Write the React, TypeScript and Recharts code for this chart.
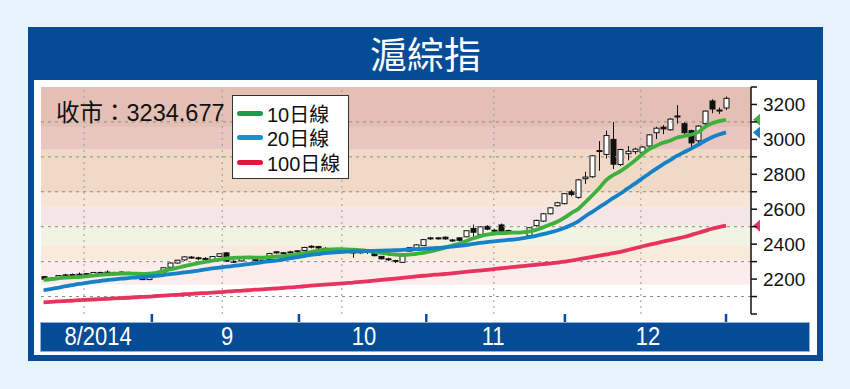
import React from 'react';
import { ComposedChart, Bar, Line, XAxis, YAxis, ReferenceLine, ReferenceArea } from 'recharts';

const dates = [
  '8/8','8/11','8/12','8/13','8/14','8/15','8/18','8/19','8/20','8/21','8/22','8/25','8/26','8/27','8/28','8/29',
  '9/1','9/2','9/3','9/4','9/5','9/9','9/10','9/11','9/12','9/15','9/16','9/17','9/18','9/19','9/22','9/23','9/24','9/25','9/26','9/29','9/30',
  '10/8','10/9','10/10','10/13','10/14','10/15','10/16','10/17','10/20','10/21','10/22','10/23','10/24','10/27','10/28','10/29','10/30','10/31',
  '11/3','11/4','11/5','11/6','11/7','11/10','11/11','11/12','11/13','11/14','11/17','11/18','11/19','11/20','11/21','11/24','11/25','11/26','11/27','11/28',
  '12/1','12/2','12/3','12/4','12/5','12/8','12/9','12/10','12/11','12/12','12/15','12/16','12/17','12/18','12/19','12/22','12/23','12/24','12/25','12/26','12/29','12/30','12/31',
];

const open = [
  2214,2200,2209,2222,2224,2226,2231,2226,2238,2240,2238,2237,2238,2212,2214,2197,
  2216,2240,2268,2292,2310,2326,2322,2318,2312,2330,2350,2302,2304,2318,2322,2305,2312,2356,2350,2352,2358,
  2364,2384,2386,2376,2368,2360,2372,2355,2350,2358,2352,2330,2316,2306,2296,2360,2376,2392,
  2432,2436,2440,2424,2436,2442,2490,2456,2502,2480,2510,2478,2468,2468,2450,2506,2532,2574,2620,2632,
  2700,2668,2775,2786,2933,2914,3000,2856,2918,2930,2926,2962,3038,3070,3055,3132,3090,3050,2992,3090,3220,3168,3180,
];
const high = [
  2218,2212,2222,2230,2232,2238,2234,2240,2242,2250,2242,2246,2242,2216,2218,2218,
  2236,2268,2295,2310,2330,2332,2328,2326,2332,2348,2354,2308,2322,2330,2326,2312,2350,2360,2356,2362,2366,
  2384,2394,2390,2382,2374,2378,2378,2360,2362,2362,2356,2332,2322,2310,2338,2382,2400,2430,
  2442,2440,2444,2430,2440,2480,2512,2502,2508,2488,2518,2482,2472,2474,2496,2540,2578,2612,2642,2692,
  2712,2774,2815,2910,2990,3050,3100,2946,2962,2952,2962,3030,3072,3082,3122,3196,3100,3056,3082,3166,3230,3182,3246,
];
const low = [
  2196,2190,2205,2218,2218,2208,2218,2224,2232,2226,2232,2228,2232,2205,2194,2194,
  2212,2238,2265,2288,2305,2318,2308,2296,2310,2326,2298,2292,2300,2314,2300,2295,2310,2345,2344,2348,2352,
  2360,2376,2372,2360,2356,2354,2358,2322,2346,2344,2330,2312,2304,2292,2292,2356,2372,2390,
  2424,2426,2426,2412,2416,2440,2436,2452,2480,2472,2468,2470,2458,2458,2446,2500,2528,2570,2615,2628,
  2674,2660,2745,2780,2820,2890,2830,2848,2880,2915,2915,2955,3002,3030,3050,3090,3030,2940,2978,3082,3150,3146,3168,
];
const close = [
  2200,2205,2220,2224,2226,2228,2221,2238,2236,2238,2236,2240,2236,2209,2197,2215,
  2232,2265,2292,2308,2327,2324,2320,2314,2329,2345,2302,2300,2320,2328,2306,2308,2346,2350,2351,2356,2362,
  2381,2388,2378,2368,2362,2374,2366,2350,2358,2354,2334,2316,2312,2302,2334,2380,2396,2426,
  2436,2434,2430,2422,2422,2477,2468,2499,2486,2478,2472,2476,2466,2466,2494,2536,2574,2608,2637,2689,
  2684,2768,2784,2906,2936,3022,2858,2942,2932,2944,2956,3026,3064,3060,3116,3134,3038,2980,3076,3162,3174,3168,3235,
];

const ma10 = [
  2195,2199,2204,2208,2210,2212,2216,2220,2224,2227,2229,2231,2232,2231,2230,2231,
  2236,2245,2255,2264,2274,2283,2292,2299,2305,2312,2318,2322,2323,2324,2323,2323,2326,2329,2332,2336,2342,
  2349,2355,2362,2367,2370,2371,2370,2368,2365,2361,2356,2350,2345,2340,2338,2340,2345,2350,
  2358,2368,2380,2391,2402,2416,2432,2445,2454,2460,2463,2465,2466,2468,2472,2482,2496,2512,2528,2550,
  2578,2602,2640,2680,2722,2768,2796,2818,2846,2877,2912,2943,2962,2980,2992,3009,3018,3027,3040,3070,3092,3105,3112,
];
const ma20 = [
  2136,2143,2150,2158,2165,2172,2178,2184,2189,2194,2198,2202,2206,2209,2212,2215,
  2219,2223,2228,2233,2238,2243,2249,2255,2261,2266,2271,2275,2280,2285,2290,2296,2301,2306,2312,2318,2325,
  2332,2338,2343,2348,2352,2355,2357,2359,2360,2361,2362,2363,2364,2365,2367,2369,2371,2373,
  2375,2378,2382,2386,2390,2395,2401,2407,2412,2416,2420,2424,2428,2433,2440,2448,2457,2467,2478,2492,
  2510,2530,2560,2585,2612,2638,2665,2690,2718,2745,2774,2802,2830,2856,2880,2905,2926,2946,2968,2992,3012,3028,3040,
];
const ma100 = [
  2067,2069,2072,2074,2076,2079,2081,2083,2085,2087,2089,2091,2093,2096,2098,2100,
  2103,2105,2108,2110,2113,2115,2118,2120,2123,2125,2128,2131,2133,2136,2139,2141,2144,2146,2149,2152,2155,
  2159,2162,2165,2168,2171,2174,2177,2180,2184,2187,2191,2195,2199,2203,2207,2211,2215,2219,
  2223,2226,2229,2233,2237,2241,2245,2249,2253,2257,2262,2266,2270,2274,2278,2282,2286,2290,2294,2300,
  2306,2313,2320,2327,2334,2341,2348,2356,2366,2376,2386,2396,2405,2414,2423,2432,2441,2452,2464,2476,2488,2498,2506,
];

const lastClose = '3234.677';
const seriesNames = ['10日線', '20日線', '100日線'];
const seriesColors = ['#3fb03c', '#1581c6', '#e8335e'];
const legendColors = ['#1c9c46', '#1a90d2', '#e0163a'];

const monthLabels = ['8/2014', '9', '10', '11', '12'];
const monthLabelPos = [7.75, 26.1, 45.55, 63.9, 85.9];
const monthBounds = [15.4, 36.3, 54.4, 74.1, 97];
const vGrid = [5.76, 25.4, 42.4, 64.0, 84.9];
const yTicks = [2000, 2100, 2200, 2300, 2400, 2500, 2600, 2700, 2800, 2900, 3000, 3100, 3200, 3300];
const yLabels = [2200, 2400, 2600, 2800, 3000, 3200];
const hGrid = [2100, 2300, 2500, 2700, 2900, 3100];
const bandEdges = [3300, 3071, 2940, 2694, 2609, 2506, 2397, 2306, 2169];
const bandColors = ['#e3c0b3', '#e9c6bf', '#f0d9c7', '#f7e5d7', '#f4e5e6', '#f2f4e3', '#f9ebdb', '#fcecec'];

const X_DOMAIN: [number, number] = [-0.36, 100.55];
const BLUE = '#054b96';

const data = dates.map((d, i) => ({
  i,
  d,
  o: open[i],
  hi: high[i],
  lo: low[i],
  c: close[i],
  range: [low[i], high[i]],
  ma10: ma10[i],
  ma20: ma20[i],
  ma100: ma100[i],
}));

const Candle = (props: any) => {
  const { x, y, width, height, payload } = props;
  if (x == null || y == null || !payload) return null;
  const top = Math.min(y, y + height);
  const h = Math.abs(height);
  const { o, hi, lo, c } = payload;
  const ratio = hi > lo ? h / (hi - lo) : 0;
  const cx = Math.round(x + width / 2) + 0.5;
  const bodyTop = top + (hi - Math.max(o, c)) * ratio;
  const bodyH = Math.max(1, Math.abs(o - c) * ratio);
  const up = c >= o;
  return (
    <g>
      <line x1={cx} x2={cx} y1={top} y2={top + h} stroke="#111" strokeWidth={1} />
      <rect
        x={cx - 2.5}
        y={bodyTop}
        width={5}
        height={bodyH}
        fill={up ? '#ffffff' : '#111111'}
        stroke="#111"
        strokeWidth={1}
      />
    </g>
  );
};

const YTick = (props: any) => {
  const { x, y, payload } = props;
  if (!yLabels.includes(payload.value)) return <g />;
  return (
    <text
      x={x}
      y={y}
      dy={7}
      textAnchor="start"
      fill="#111"
      fontSize={19}
      fontFamily="'Liberation Sans', Arial, sans-serif"
    >
      {payload.value}
    </text>
  );
};

const XLabelTick = (props: any) => {
  const { x, y, payload } = props;
  const idx = monthLabelPos.indexOf(payload.value);
  return (
    <g transform={`translate(${x},${y + 23}) scale(0.88,1)`}>
      <text
        x={0}
        y={0}
        textAnchor="middle"
        fill="#ffffff"
        fontSize={25}
        fontFamily="'Liberation Sans', Arial, sans-serif"
      >
        {idx >= 0 ? monthLabels[idx] : ''}
      </text>
    </g>
  );
};

const Tri = ({ viewBox, color }: any) => {
  if (!viewBox) return null;
  const px = viewBox.x + viewBox.width + 2;
  const py = viewBox.y;
  return <path d={`M${px},${py} L${px + 7},${py - 6} L${px + 7},${py + 6} Z`} fill={color} />;
};

const lastVals = [ma10[ma10.length - 1], ma20[ma20.length - 1], ma100[ma100.length - 1]];

export default function App() {
  return (
    <div style={{ position: 'absolute', left: 0, top: 0, width: 850, height: 389, background: '#e7f4fc', overflow: 'hidden' }}>
      <div style={{ position: 'absolute', left: 28, top: 27, width: 795, height: 334, background: BLUE }} />
      <div
        style={{
          position: 'absolute',
          left: 28,
          top: 27,
          width: 795,
          height: 53,
          color: '#fff',
          fontSize: 37,
          lineHeight: '53px',
          textAlign: 'center',
          fontFamily: "'Noto Sans CJK TC', 'Noto Sans CJK SC', sans-serif",
        }}
      >
        滬綜指
      </div>
      <div style={{ position: 'absolute', left: 34, top: 80, width: 783, height: 275, background: '#ffffff' }} />
      <div
        style={{
          position: 'absolute',
          left: 40,
          top: 322,
          width: 770,
          height: 30,
          background: BLUE,
          border: '1px solid #8fb0da',
          boxSizing: 'border-box',
        }}
      />
      <div style={{ position: 'absolute', left: 0, top: 0 }}>
        <ComposedChart width={850} height={389} data={data} margin={{ top: 87, right: 39, bottom: 37, left: 41 }}>
          <XAxis
            xAxisId="a"
            type="number"
            dataKey="i"
            domain={X_DOMAIN}
            allowDataOverflow
            ticks={monthBounds}
            interval={0}
            height={8}
            tickSize={8}
            tick={() => <g />}
            tickLine={{ stroke: BLUE, strokeWidth: 2.5 }}
            axisLine={false}
          />
          <XAxis
            xAxisId="b"
            type="number"
            dataKey="i"
            domain={X_DOMAIN}
            allowDataOverflow
            ticks={monthLabelPos}
            interval={0}
            height={30}
            tickSize={0}
            tickMargin={0}
            tickLine={false}
            axisLine={false}
            tick={<XLabelTick />}
          />
          <YAxis
            type="number"
            orientation="right"
            domain={[2000, 3300]}
            allowDataOverflow
            ticks={yTicks}
            interval={0}
            width={60}
            tickSize={6}
            tickMargin={6}
            axisLine={{ stroke: '#111', strokeWidth: 1.5 }}
            tickLine={{ stroke: '#111', strokeWidth: 1.5 }}
            tick={<YTick />}
          />
          {bandColors.map((col, k) => (
            <ReferenceArea
              key={`band${k}`}
              xAxisId="a"
              y1={bandEdges[k + 1]}
              y2={bandEdges[k]}
              fill={col}
              fillOpacity={1}
              stroke="none"
              ifOverflow="visible"
            />
          ))}
          {hGrid.map((v) => (
            <ReferenceLine key={`h${v}`} xAxisId="a" y={v} stroke="#8c8c8c" strokeDasharray="3 4" strokeWidth={1} />
          ))}
          {vGrid.map((v) => (
            <ReferenceLine key={`v${v}`} xAxisId="a" x={v} stroke="#9a9a9a" strokeDasharray="2 4" strokeWidth={1} />
          ))}
          <Bar xAxisId="a" dataKey="range" barSize={5} shape={<Candle />} isAnimationActive={false} />
          <Line xAxisId="a" type="monotone" dataKey="ma100" stroke={seriesColors[2]} strokeWidth={3.8} dot={false} isAnimationActive={false} />
          <Line xAxisId="a" type="monotone" dataKey="ma10" stroke={seriesColors[0]} strokeWidth={3.8} dot={false} isAnimationActive={false} />
          <Line xAxisId="a" type="monotone" dataKey="ma20" stroke={seriesColors[1]} strokeWidth={3.8} dot={false} isAnimationActive={false} />
          {lastVals.map((v, k) => (
            <ReferenceLine
              key={`tri${k}`}
              xAxisId="a"
              y={v}
              stroke="none"
              ifOverflow="visible"
              label={{ content: (p: any) => <Tri viewBox={p.viewBox} color={seriesColors[k]} /> }}
            />
          ))}
        </ComposedChart>
      </div>
      <div
        style={{
          position: 'absolute',
          left: 56,
          top: 99,
          fontSize: 23.5,
          lineHeight: '28px',
          color: '#111',
          fontFamily: "'Liberation Sans', 'Noto Sans CJK TC', sans-serif",
          whiteSpace: 'nowrap',
        }}
      >
        收市：{lastClose}
      </div>
      <div
        style={{
          position: 'absolute',
          left: 232,
          top: 95,
          width: 117,
          height: 84,
          background: '#fff',
          border: '1.5px solid #333',
          boxSizing: 'border-box',
        }}
      >
        {seriesNames.map((n, k) => (
          <div key={n} style={{ position: 'absolute', left: 4, top: 5 + k * 24.5, height: 24, display: 'flex', alignItems: 'center' }}>
            <div style={{ width: 26, height: 5, borderRadius: 3, background: legendColors[k] }} />
            <span
              style={{
                marginLeft: 4,
                fontSize: 20,
                color: '#111',
                fontFamily: "'Liberation Sans', 'Noto Sans CJK TC', sans-serif",
                whiteSpace: 'nowrap',
              }}
            >
              {n}
            </span>
          </div>
        ))}
      </div>
    </div>
  );
}
